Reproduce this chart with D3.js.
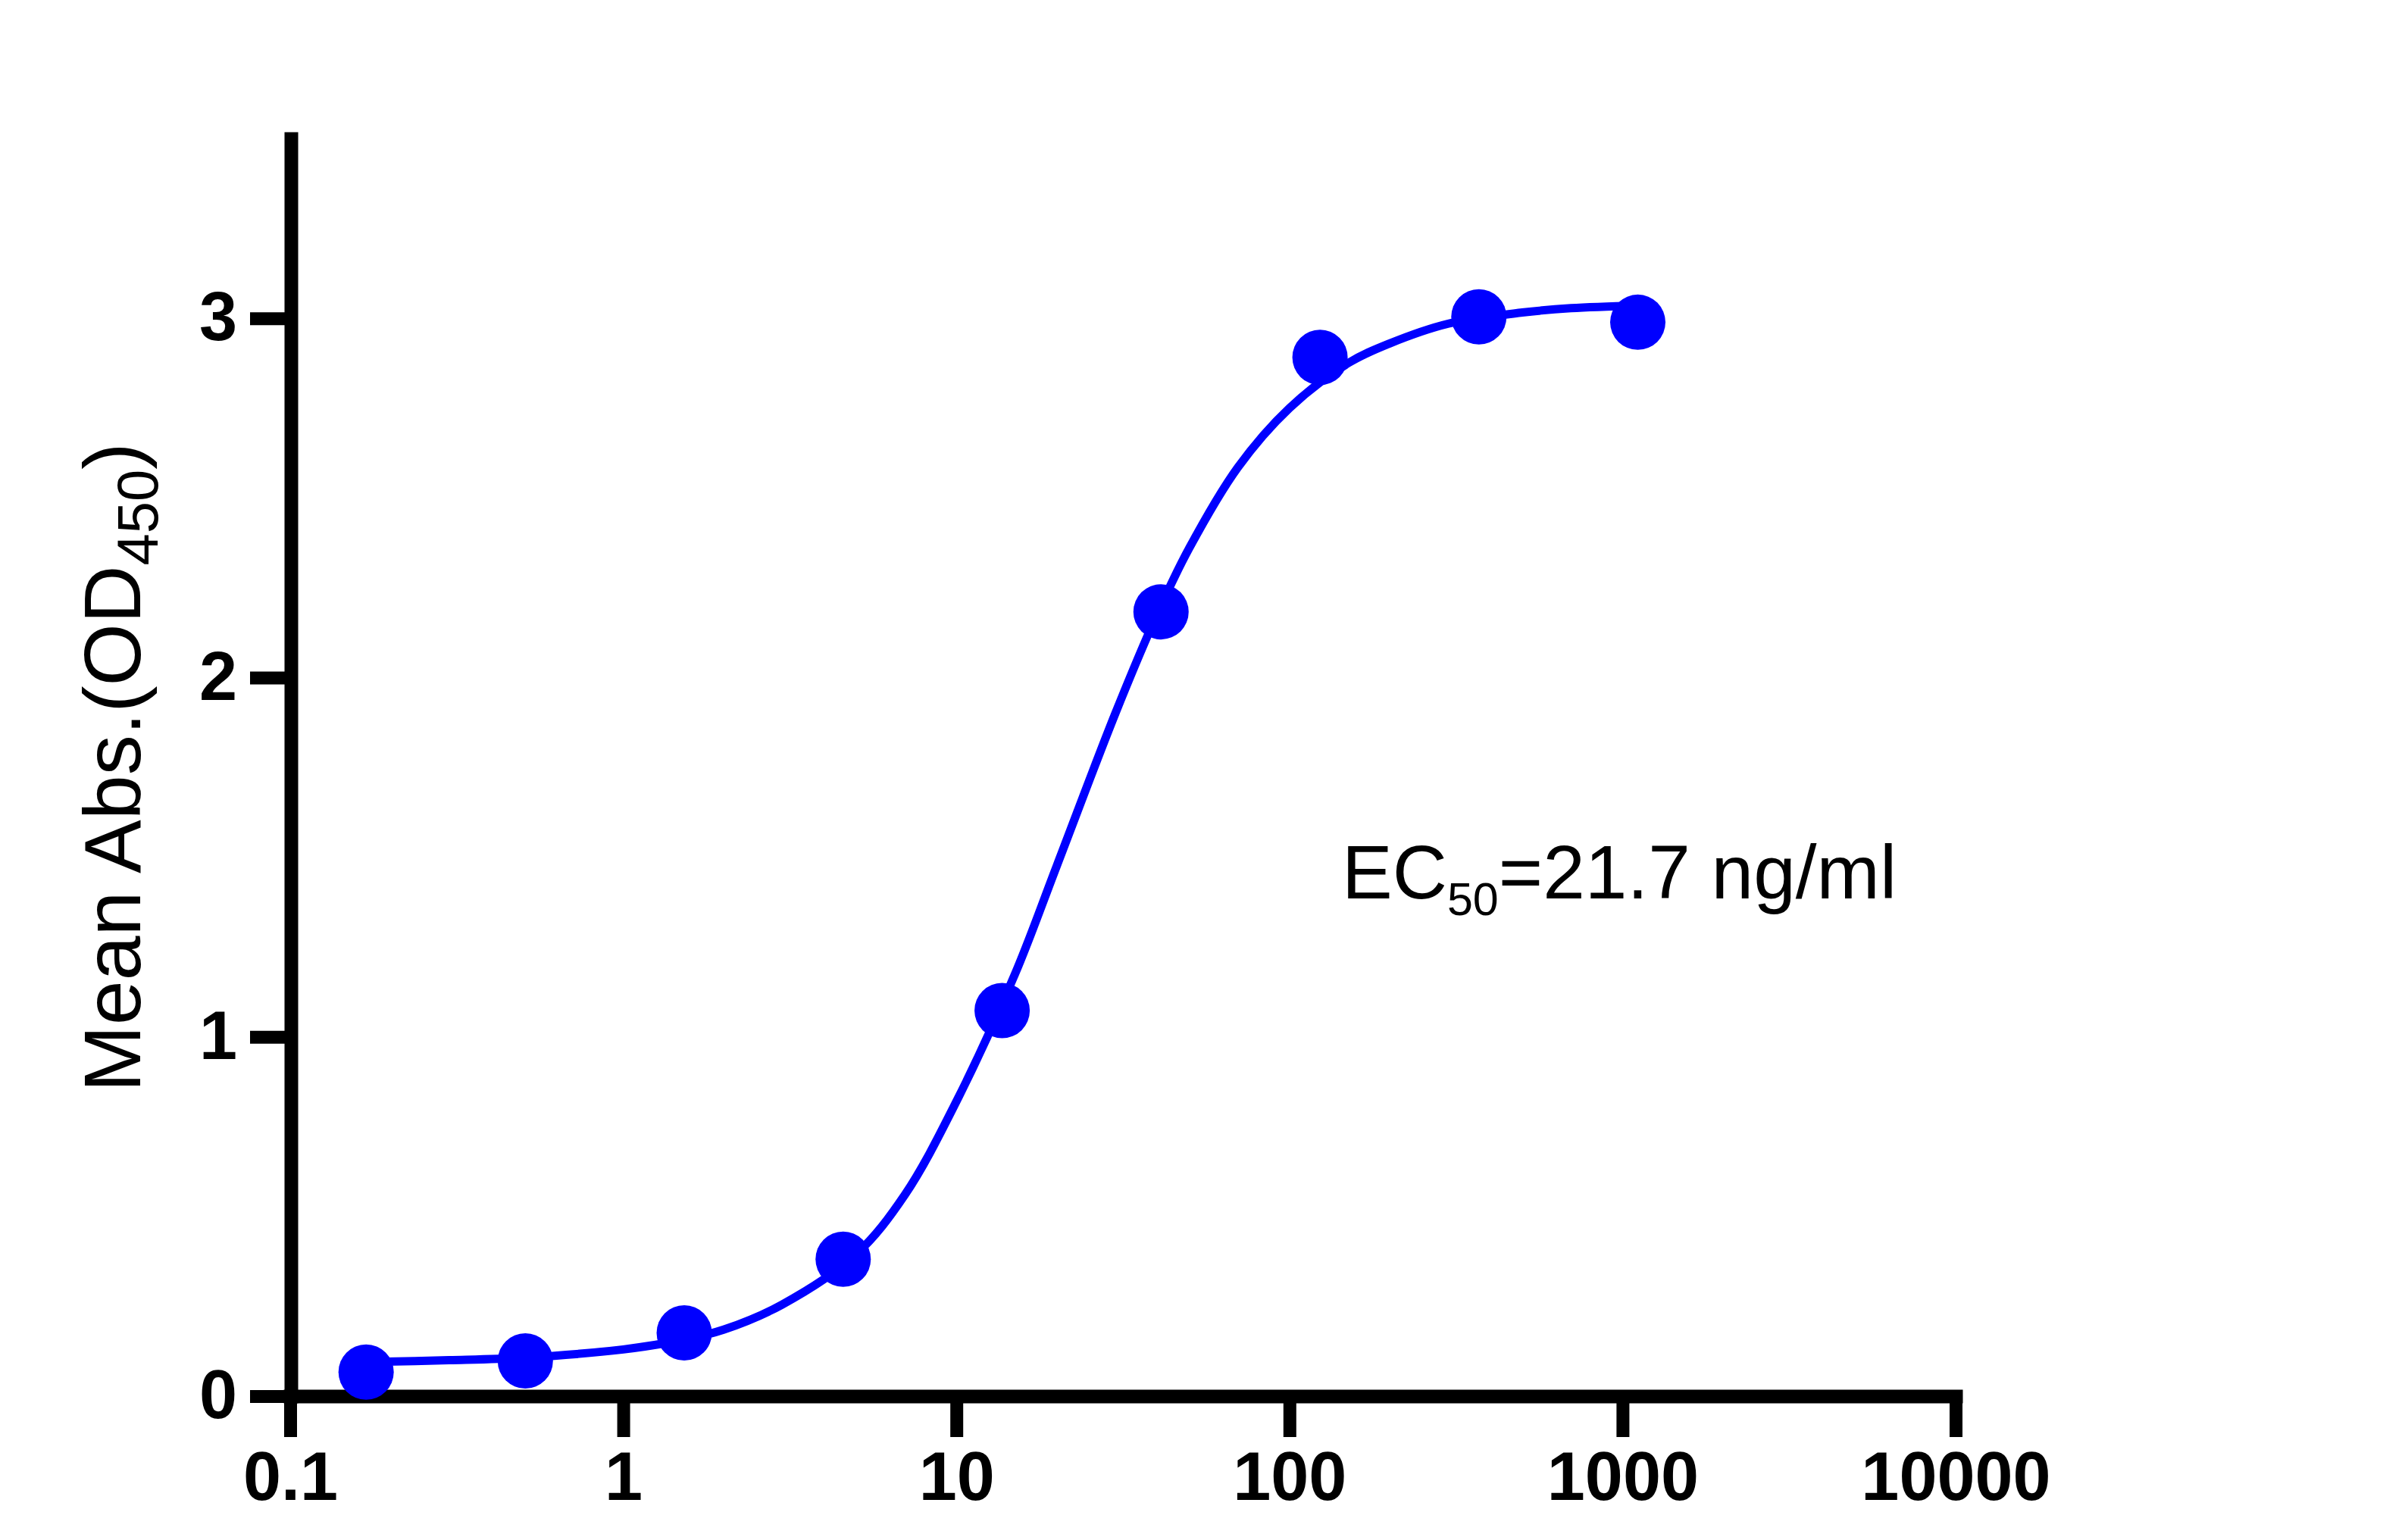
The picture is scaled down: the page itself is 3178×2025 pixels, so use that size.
<!DOCTYPE html>
<html lang="en">
<head>
    <meta charset="UTF-8">
    <title>EC50 binding curve</title>
    <script src="https://d3js.org/d3.v7.min.js"></script>
    <style>
        body {
            margin: 0;
            background: #ffffff;
        }

        svg text {
            font-family: "Liberation Sans", Arial, sans-serif;
            fill: #000000;
        }

        .axis .tick text {
            font-weight: bold;
            font-size: 90px;
        }
    </style>
</head>
<body>
    <svg id="chart" width="3178" height="2025"></svg>

    <script>
        // measured points: concentration (ng/ml) and mean OD450
        const conc = [0.169, 0.508, 1.524, 4.572, 13.72, 41.15, 123.5, 370.4, 1111.1];
        const meanAbs = [0.067, 0.098, 0.176, 0.381, 1.073, 2.183, 2.891, 3.004, 2.989];

        // fitted curve
        const fitConc = [0.169, 0.3, 0.5, 1, 1.5, 2, 3, 5, 7, 10, 15, 20, 30, 40, 50, 70, 100, 150, 200, 300, 500, 700, 1111.1];
        const fitAbs = [0.095, 0.100, 0.107, 0.130, 0.156, 0.185, 0.255, 0.395, 0.56, 0.82, 1.175, 1.475, 1.90, 2.175, 2.36, 2.585, 2.75, 2.875, 2.93, 2.985, 3.016, 3.028, 3.035];

        const xTicks = [0.1, 1, 10, 100, 1000, 10000];
        const xTickLabels = ['0.1', '1', '10', '100', '1000', '10000'];
        const yTicks = [0, 1, 2, 3];
        const yTickLabels = ['0', '1', '2', '3'];

        const blue = '#0000ff';

        let svg = d3.select('#chart');

        let x = d3.scaleLog()
            .domain([0.1, 10000])
            .range([383, 2581]);

        let y = d3.scaleLinear()
            .domain([0, 3.5])
            .range([1843, 183]);

        // axes
        let xAxis = d3.axisBottom(x)
            .tickValues(xTicks)
            .tickFormat((d, i) => xTickLabels[i])
            .tickSizeInner(54)
            .tickSizeOuter(0)
            .tickPadding(19);

        let yAxis = d3.axisLeft(y)
            .tickValues(yTicks)
            .tickFormat((d, i) => yTickLabels[i])
            .tickSizeInner(54)
            .tickSizeOuter(0)
            .tickPadding(17);

        let gx = svg.append('g')
            .attr('class', 'axis')
            .attr('transform', 'translate(0 ' + y(0) + ')')
            .call(xAxis);

        let gy = svg.append('g')
            .attr('class', 'axis')
            .attr('transform', 'translate(' + (x(0.1) + 1) + ' 0)')
            .call(yAxis);

        [gx, gy].forEach(g => {
            g.select('.domain')
                .attr('stroke', '#000')
                .attr('stroke-width', 18)
                .attr('stroke-linecap', 'square');
            g.selectAll('.tick line')
                .attr('stroke', '#000')
                .attr('stroke-width', 17);
        });

        // fitted curve
        let line = d3.line()
            .x((d, i) => x(fitConc[i]))
            .y(d => y(d))
            .curve(d3.curveCatmullRom.alpha(0.5));

        svg.append('path')
            .datum(fitAbs)
            .attr('d', line)
            .attr('fill', 'none')
            .attr('stroke', blue)
            .attr('stroke-width', 11);

        // data points
        svg.append('g').selectAll('circle').data(meanAbs).enter().append('circle')
            .attr('cx', (d, i) => x(conc[i]))
            .attr('cy', d => y(d))
            .attr('r', 36.5)
            .attr('fill', blue);

        // y axis title
        let yTitle = svg.append('text')
            .attr('transform', 'translate(185 1013) rotate(-90)')
            .attr('text-anchor', 'middle')
            .style('font-size', '106px');
        yTitle.append('tspan').text('Mean Abs.(OD');
        yTitle.append('tspan').attr('dy', 23).style('font-size', '76px').text('450');
        yTitle.append('tspan').attr('dy', -23).text(')');

        // EC50 annotation
        let ec = svg.append('text')
            .attr('x', 1771)
            .attr('y', 1186)
            .style('font-size', '100px');
        ec.append('tspan').text('EC');
        ec.append('tspan').attr('dy', 22).style('font-size', '61px').text('50');
        ec.append('tspan').attr('dy', -22).text('=21.7 ng/ml');
    </script>
</body>
</html>
